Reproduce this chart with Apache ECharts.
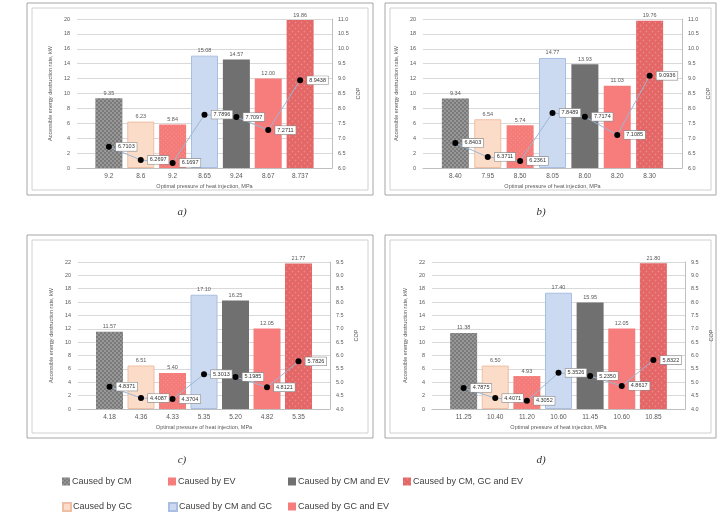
<!DOCTYPE html>
<html>
<head>
<meta charset="utf-8">
<script src="https://cdn.jsdelivr.net/npm/echarts@6/dist/echarts.min.js"></script>
<style>html,body{margin:0;padding:0;background:#fff}#c{width:717px;height:523px}</style>
</head>
<body>
<div id="c"></div>
<script>
// ---- data ----
const SERIES_NAMES = ['Caused by CM','Caused by GC','Caused by EV','Caused by CM and GC','Caused by CM and EV','Caused by GC and EV','Caused by CM, GC and EV'];

const CATS_A = ['9.2','8.6','9.2','8.65','9.24','8.67','8.737'];
const KW_A   = [9.35, 6.23, 5.84, 15.08, 14.57, 12.00, 19.86];
const COP_A  = [6.7103, 6.2697, 6.1697, 7.7896, 7.7097, 7.2711, 8.9438];

const CATS_B = ['8.40','7.95','8.50','8.05','8.60','8.20','8.30'];
const KW_B   = [9.34, 6.54, 5.74, 14.77, 13.93, 11.03, 19.76];
const COP_B  = [6.8403, 6.3711, 6.2361, 7.8489, 7.7174, 7.1085, 9.0936];

const CATS_C = ['4.18','4.36','4.33','5.35','5.20','4.82','5.35'];
const KW_C   = [11.57, 6.51, 5.40, 17.10, 16.25, 12.05, 21.77];
const COP_C  = [4.8371, 4.4087, 4.3704, 5.3013, 5.1985, 4.8121, 5.7826];

const CATS_D = ['11.25','10.40','11.20','10.60','11.45','10.60','10.85'];
const KW_D   = [11.38, 6.50, 4.93, 17.40, 15.95, 12.05, 21.80];
const COP_D  = [4.7875, 4.4071, 4.3052, 5.3526, 5.2350, 4.8617, 5.8322];

const KW_AXIS_AB = {min:0, max:20, interval:2};
const KW_AXIS_CD = {min:0, max:22, interval:2};
const COP_AXIS_AB = {min:6, max:11, interval:0.5};
const COP_AXIS_CD = {min:4, max:9.5, interval:0.5};

const PANEL_LABELS = ['a)','b)','c)','d)'];

// ---- styles ----
const BAR_STYLES = [
  {color:'#7a7a7a', decal:{symbol:'rect', symbolSize:1, dashArrayX:[[2,2],[0,2,2,0]], dashArrayY:[2,0], color:'rgba(255,255,255,0.22)'}},
  {color:'#fbdcc8', borderColor:'#eebfa4', borderWidth:1},
  {color:'#f47b78', decal:{symbol:'rect', symbolSize:1, dashArrayX:[1,2], dashArrayY:[1,2], rotation:Math.PI/4, color:'rgba(255,255,255,0.2)'}},
  {color:'#cbdaf1', borderColor:'#a8bfe2', borderWidth:1},
  {color:'#707070'},
  {color:'#f77c7c'},
  {color:'#e46666', decal:{symbol:'circle', symbolSize:0.6, dashArrayX:[[3,3],[0,3,3,0]], dashArrayY:[3,0], color:'rgba(255,255,255,0.22)'}}
];

const PANELS = [
  {cats:CATS_A, kw:KW_A, cop:COP_A, kwAxis:KW_AXIS_AB, copAxis:COP_AXIS_AB},
  {cats:CATS_B, kw:KW_B, cop:COP_B, kwAxis:KW_AXIS_AB, copAxis:COP_AXIS_AB},
  {cats:CATS_C, kw:KW_C, cop:COP_C, kwAxis:KW_AXIS_CD, copAxis:COP_AXIS_CD},
  {cats:CATS_D, kw:KW_D, cop:COP_D, kwAxis:KW_AXIS_CD, copAxis:COP_AXIS_CD}
];

const LAYOUT = [
  {grid:{left:77, top:19, width:255, height:149}, box:[27,3,346,192], label:[182,212]},
  {grid:{left:423, top:19, width:259, height:149}, box:[385,3,331,192], label:[541,212]},
  {grid:{left:78, top:262, width:252, height:147}, box:[27,235,346,203], label:[182,460]},
  {grid:{left:432, top:262, width:253, height:147}, box:[385,235,331,203], label:[541,460]}
];

const LEGEND_POS = [
  {left:57, top:472}, {left:57, top:497}, {left:163, top:472}, {left:163, top:497},
  {left:283, top:472}, {left:283, top:497}, {left:398, top:472}
];

const TXT = '#595959';
const FONT = 'Liberation Sans, Arial, sans-serif';

const grids = [], xAxes = [], yAxes = [], series = [], graphics = [];

PANELS.forEach((p, k) => {
  const L = LAYOUT[k];
  grids.push(L.grid);
  xAxes.push({
    type:'value', gridIndex:k, min:-1, max:7, interval:1,
    axisTick:{show:false}, splitLine:{show:false},
    axisLine:{show:true, lineStyle:{color:'#bfbfbf'}},
    axisLabel:{fontSize:6.5, color:TXT, fontFamily:FONT, margin:5,
      formatter:(v)=>{const i=Math.round(v); return (i>=0 && i<p.cats.length)? p.cats[i] : '';}},
    name:'Optimal pressure of heat injection, MPa', nameLocation:'middle', nameGap:15,
    nameTextStyle:{fontSize:5.5, color:TXT, fontFamily:FONT}
  });
  yAxes.push({
    type:'value', gridIndex:k, position:'left', min:p.kwAxis.min, max:p.kwAxis.max, interval:p.kwAxis.interval,
    axisLine:{show:false}, axisTick:{show:false},
    splitLine:{lineStyle:{color:'#d9d9d9', width:1}},
    axisLabel:{fontSize:5.5, color:TXT, fontFamily:FONT, margin:7},
    name:'Accessible energy destruction rate, kW', nameLocation:'middle', nameGap:24,
    nameTextStyle:{fontSize:5.5, color:TXT, fontFamily:FONT}
  });
  yAxes.push({
    type:'value', gridIndex:k, position:'right', min:p.copAxis.min, max:p.copAxis.max, interval:p.copAxis.interval,
    axisLine:{show:true, lineStyle:{color:'#bfbfbf'}}, axisTick:{show:false}, splitLine:{show:false},
    axisLabel:{fontSize:5.5, color:TXT, fontFamily:FONT, margin:6, formatter:(v)=>v.toFixed(1)},
    name:'COP', nameLocation:'middle', nameGap:23, nameRotate:90,
    nameTextStyle:{fontSize:5.5, color:TXT, fontFamily:FONT}
  });
  SERIES_NAMES.forEach((nm, i) => {
    series.push({
      type:'bar', name:nm, xAxisIndex:k, yAxisIndex:2*k, stack:'p'+k, barWidth:27,
      itemStyle:BAR_STYLES[i],
      label:{show:true, position:'top', distance:2, fontSize:5.5, color:TXT, fontFamily:FONT,
        formatter:(pr)=>pr.value[1].toFixed(2)},
      data:[[i, p.kw[i]]], z:2
    });
  });
  series.push({
    type:'line', name:'COP', xAxisIndex:k, yAxisIndex:2*k+1,
    data:p.cop.map((v,i)=>[i,v]),
    symbol:'circle', symbolSize:6,
    itemStyle:{color:'#000'},
    lineStyle:{color:'#9bb7d6', width:1},
    label:{show:true, position:'right', distance:4, fontSize:5.5, color:'#333', fontFamily:FONT,
      backgroundColor:'#fff', borderColor:'#8c8c8c', borderWidth:0.6, padding:[1,2],
      formatter:(pr)=>pr.value[1].toFixed(4)},
    z:5
  });
  const b = L.box;
  graphics.push({type:'rect', shape:{x:b[0], y:b[1], width:b[2], height:b[3]}, style:{fill:'none', stroke:'#a6a6a6', lineWidth:1}, silent:true});
  graphics.push({type:'rect', shape:{x:b[0]+5, y:b[1]+5, width:b[2]-10, height:b[3]-10}, style:{fill:'none', stroke:'#d0d0d0', lineWidth:1}, silent:true});
  graphics.push({type:'text', x:L.label[0], y:L.label[1], style:{text:PANEL_LABELS[k], font:'italic 11px "Liberation Serif", serif', fill:'#333', textAlign:'center', textVerticalAlign:'middle'}, silent:true});
});

const legends = SERIES_NAMES.map((nm, i) => ({
  data:[nm], left:LEGEND_POS[i].left, top:LEGEND_POS[i].top, orient:'horizontal',
  icon:'rect', itemWidth:8, itemHeight:8, itemGap:2, selectedMode:false,
  textStyle:{fontSize:9, color:'#404040', fontFamily:FONT, padding:[0,0,0,-3]}
}));

const chart = echarts.init(document.getElementById('c'), null, {renderer:'canvas'});
chart.setOption({
  animation:false,
  backgroundColor:'#fff',
  textStyle:{fontFamily:FONT},
  grid:grids, xAxis:xAxes, yAxis:yAxes, series:series,
  legend:legends, graphic:graphics
});
</script>
</body>
</html>
